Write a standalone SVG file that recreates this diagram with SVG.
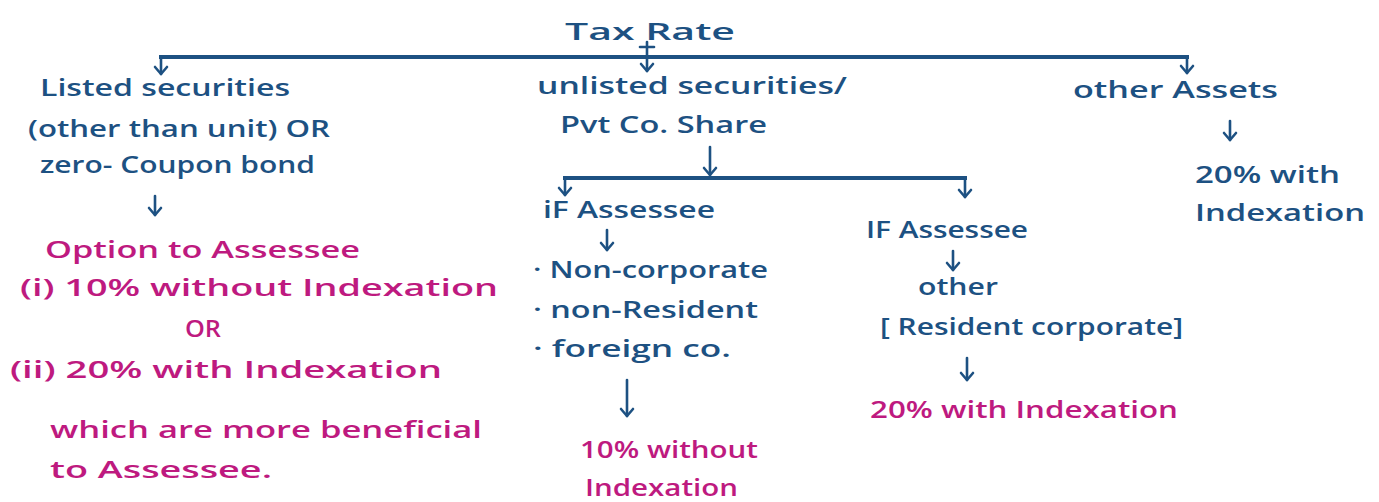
<svg xmlns="http://www.w3.org/2000/svg" width="1379" height="502" viewBox="0 0 1379 502">
  <style>
    .bg { fill: #ffffff; }
    .t { font-family: "Open Sans", "Noto Sans", "DejaVu Sans", sans-serif; font-size: 23px; font-weight: 600; }
    .blue { fill: #1d5182; }
    .pink { fill: #be1a7f; }
    .bus { fill: none; stroke: #1d5182; stroke-width: 4; stroke-linecap: square; }
    .arr { fill: none; stroke: #1d5182; stroke-width: 2.6; stroke-linecap: round; }
  </style>
  <defs>
    <marker id="head" markerUnits="userSpaceOnUse" markerWidth="20" markerHeight="20" viewBox="-10 -10 20 20" refX="0" refY="0" orient="auto">
      <path d="M -7 -6 L 0 0 L -7 6" fill="none" stroke="#1d5182" stroke-width="2.6" stroke-linecap="round" stroke-linejoin="round"/>
    </marker>
  </defs>
  <rect class="bg" x="0" y="0" width="1379" height="502"/>

  <!-- connectors -->
  <g id="connectors">
    <!-- top level split -->
    <line class="bus" x1="161" y1="57" x2="1187" y2="57"/>
    <line class="arr" x1="647" y1="42" x2="647" y2="71" marker-end="url(#head)"/>
    <line class="arr" x1="640" y1="47" x2="654" y2="47"/>
    <line class="arr" x1="161" y1="57" x2="161" y2="74" marker-end="url(#head)"/>
    <line class="arr" x1="1187" y1="57" x2="1187" y2="73" marker-end="url(#head)"/>
    <!-- listed branch -->
    <line class="arr" x1="155" y1="196" x2="155" y2="215" marker-end="url(#head)"/>
    <!-- unlisted branch split -->
    <line class="arr" x1="710" y1="147" x2="710" y2="175" marker-end="url(#head)"/>
    <line class="bus" x1="565" y1="178" x2="965" y2="178"/>
    <line class="arr" x1="565" y1="178" x2="565" y2="195" marker-end="url(#head)"/>
    <line class="arr" x1="965" y1="178" x2="965" y2="197" marker-end="url(#head)"/>
    <line class="arr" x1="607" y1="230" x2="607" y2="250" marker-end="url(#head)"/>
    <line class="arr" x1="627" y1="380" x2="627" y2="416" marker-end="url(#head)"/>
    <!-- other assessee -->
    <line class="arr" x1="953" y1="251" x2="953" y2="270" marker-end="url(#head)"/>
    <line class="arr" x1="967" y1="358" x2="967" y2="380" marker-end="url(#head)"/>
    <!-- other assets -->
    <line class="arr" x1="1230" y1="121" x2="1230" y2="140" marker-end="url(#head)"/>
  </g>

  <g id="tax-rate">
    <text class="t blue" x="565" y="40" font-size="28" textLength="170" lengthAdjust="spacingAndGlyphs">Tax Rate</text>
  </g>

  <g id="listed">
    <text class="t blue" x="40" y="96" textLength="250" lengthAdjust="spacingAndGlyphs">Listed securities</text>
    <text class="t blue" x="28" y="137" textLength="302" lengthAdjust="spacingAndGlyphs">(other than unit) OR</text>
    <text class="t blue" x="40" y="173" textLength="275" lengthAdjust="spacingAndGlyphs">zero- Coupon bond</text>
  </g>

  <g id="listed-option">
    <text class="t pink" x="45" y="258" textLength="315" lengthAdjust="spacingAndGlyphs">Option to Assessee</text>
    <text class="t pink" x="20" y="296" textLength="478" lengthAdjust="spacingAndGlyphs">(i)  10%  without Indexation</text>
    <text class="t pink" x="185" y="337" textLength="36" lengthAdjust="spacingAndGlyphs">OR</text>
    <text class="t pink" x="10" y="378" textLength="432" lengthAdjust="spacingAndGlyphs">(ii)  20%  with Indexation</text>
    <text class="t pink" x="50" y="438" textLength="432" lengthAdjust="spacingAndGlyphs">which are more beneficial</text>
    <text class="t pink" x="50" y="478" textLength="222" lengthAdjust="spacingAndGlyphs">to Assessee.</text>
  </g>

  <g id="unlisted">
    <text class="t blue" x="537" y="94" textLength="310" lengthAdjust="spacingAndGlyphs">unlisted securities/</text>
    <text class="t blue" x="560" y="133" textLength="207" lengthAdjust="spacingAndGlyphs">Pvt Co. Share</text>
  </g>

  <g id="assessee-noncorp">
    <text class="t blue" x="543" y="218" textLength="172" lengthAdjust="spacingAndGlyphs">iF Assessee</text>
    <text class="t blue" x="533" y="278" textLength="235" lengthAdjust="spacingAndGlyphs">· Non-corporate</text>
    <text class="t blue" x="533" y="318" textLength="225" lengthAdjust="spacingAndGlyphs">·  non-Resident</text>
    <text class="t blue" x="533" y="357" textLength="198" lengthAdjust="spacingAndGlyphs">·  foreign co.</text>
  </g>

  <g id="noncorp-rate">
    <text class="t pink" x="580" y="458" textLength="178" lengthAdjust="spacingAndGlyphs">10% without</text>
    <text class="t pink" x="585" y="496" textLength="153" lengthAdjust="spacingAndGlyphs">Indexation</text>
  </g>

  <g id="assessee-other">
    <text class="t blue" x="866" y="238" textLength="162" lengthAdjust="spacingAndGlyphs">IF Assessee</text>
    <text class="t blue" x="918" y="295" textLength="80" lengthAdjust="spacingAndGlyphs">other</text>
    <text class="t blue" x="880" y="335" textLength="303" lengthAdjust="spacingAndGlyphs">[ Resident corporate]</text>
  </g>

  <g id="other-rate">
    <text class="t pink" x="870" y="418" textLength="308" lengthAdjust="spacingAndGlyphs">20% with Indexation</text>
  </g>

  <g id="other-assets">
    <text class="t blue" x="1073" y="98" textLength="205" lengthAdjust="spacingAndGlyphs">other Assets</text>
    <text class="t blue" x="1195" y="183" textLength="145" lengthAdjust="spacingAndGlyphs">20% with</text>
    <text class="t blue" x="1195" y="221" textLength="170" lengthAdjust="spacingAndGlyphs">Indexation</text>
  </g>
</svg>
